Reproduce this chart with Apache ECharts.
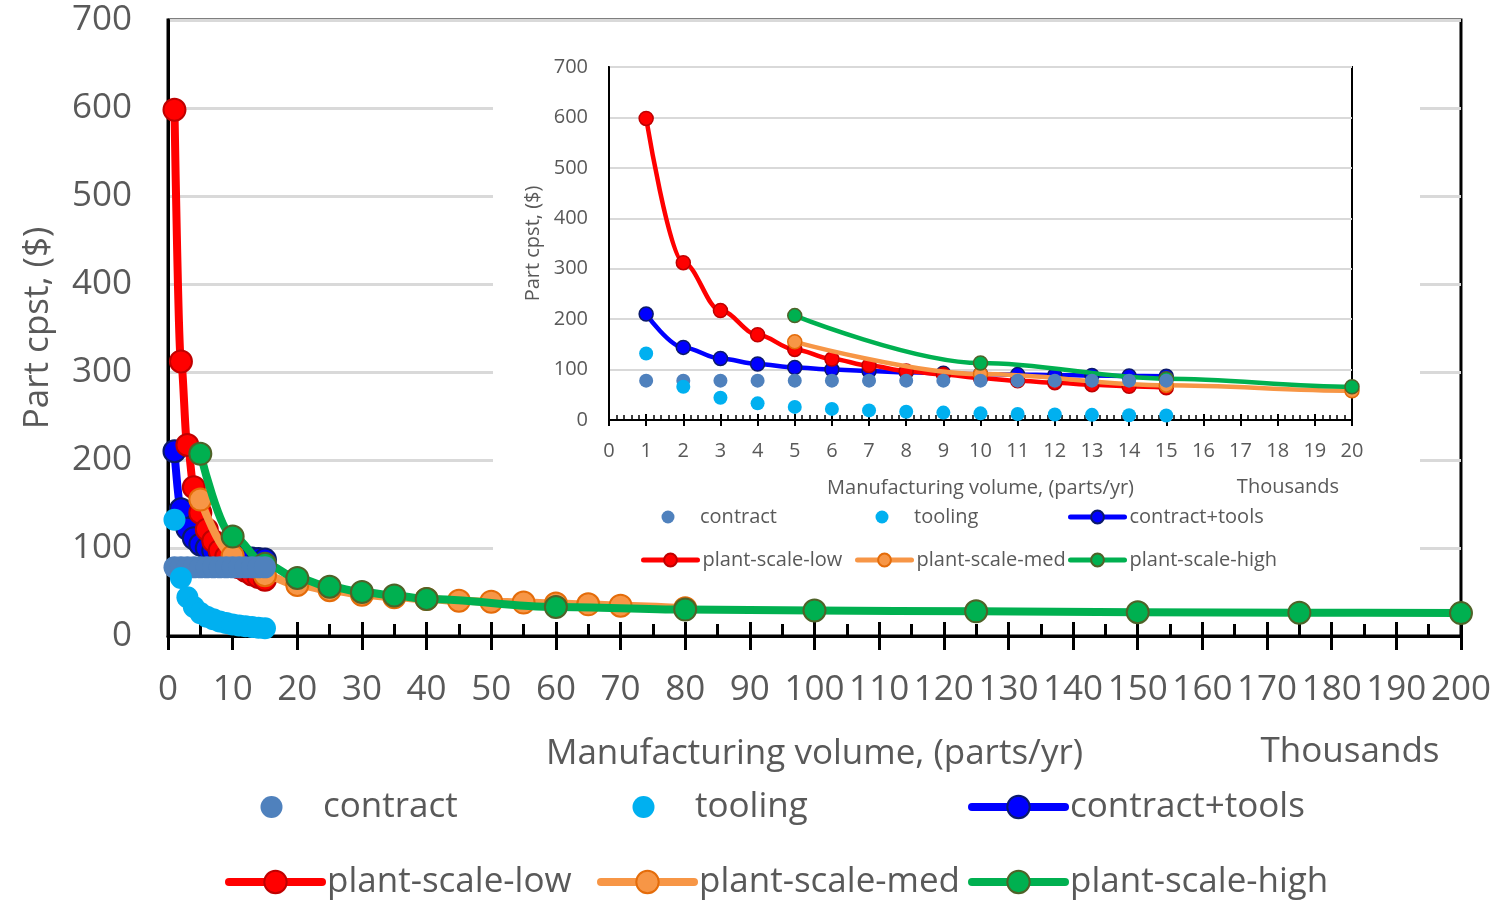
<!DOCTYPE html>
<html>
<head>
<meta charset="utf-8">
<script src="https://cdn.jsdelivr.net/npm/echarts@6/dist/echarts.min.js"></script>
<style>
  html, body { margin: 0; padding: 0; background: #ffffff; }
  #chart { width: 1494px; height: 904px; }
</style>
</head>
<body>
<div id="chart"></div>
<script>
// Manufacturing volume in thousands of parts per year
const volumeContract = [1, 2, 3, 4, 5, 6, 7, 8, 9, 10, 11, 12, 13, 14, 15];
const contractCost = [78, 78, 78, 78, 78, 78, 78, 78, 78, 78, 78, 78, 78, 78, 78];
const toolingCost = [132, 66, 44, 33, 26, 22, 19, 16.5, 14.7, 13.2, 12, 11, 10.2, 9.4, 8.8];
const contractToolsCost = [210, 144, 122, 111, 104, 100, 97, 94.5, 92.7, 91.2, 90, 89, 88.2, 87.4, 86.8];
const plantLowCost = [598, 312, 217, 169, 140, 121, 108, 97, 90, 83, 78, 74, 70, 67, 64];

const volumeMed = [5, 10, 15, 20, 25, 30, 35, 40, 45, 50, 55, 60, 65, 70, 80];
const plantMedCost = [155, 91, 69, 58, 52, 47, 44, 42, 40, 39, 38, 37, 36, 34.5, 31.5];

const volumeHigh = [5, 10, 15, 20, 25, 30, 35, 40, 60, 80, 100, 125, 150, 175, 200];
const plantHighCost = [207, 113, 82, 66, 56, 50, 46, 42, 33, 30, 29, 28, 27, 26.5, 26];

const TEXT = '#595959';
const FONT = 'Open Sans';

const pairs = (xs, ys) => xs.map((x, i) => [x, ys[i]]);

const lineDefs = [
  { name: 'contract+tools', data: pairs(volumeContract, contractToolsCost), line: '#0000ff', fill: '#0000ff', border: '#0b1a6b' },
  { name: 'plant-scale-low', data: pairs(volumeContract, plantLowCost), line: '#ff0000', fill: '#ff0000', border: '#c00000' },
  { name: 'plant-scale-med', data: pairs(volumeMed, plantMedCost), line: '#f79646', fill: '#f79646', border: '#e46c0a' },
  { name: 'plant-scale-high', data: pairs(volumeHigh, plantHighCost), line: '#00b050', fill: '#00b050', border: '#4f6228' }
];
const dotDefs = [
  { name: 'contract', data: pairs(volumeContract, contractCost), fill: '#4f81bd' },
  { name: 'tooling', data: pairs(volumeContract, toolingCost), fill: '#00b0f0' }
];

function buildSeries(xIdx, yIdx, lineW, symSize, zBase) {
  const out = [];
  lineDefs.forEach((d, i) => {
    out.push({
      name: d.name, type: 'line', xAxisIndex: xIdx, yAxisIndex: yIdx,
      data: d.data, smooth: 0.35, smoothMonotone: 'x',
      symbol: 'circle', symbolSize: symSize, showAllSymbol: true,
      lineStyle: { color: d.line, width: lineW, cap: 'round', join: 'round' },
      itemStyle: { color: d.fill, borderColor: d.border, borderWidth: Math.max(1.5, lineW / 4) },
      emphasis: { disabled: true }, z: zBase + i, clip: true
    });
  });
  dotDefs.forEach((d, i) => {
    out.push({
      name: d.name, type: 'scatter', xAxisIndex: xIdx, yAxisIndex: yIdx,
      data: d.data, symbol: 'circle', symbolSize: symSize,
      itemStyle: { color: d.fill, opacity: 1 },
      emphasis: { disabled: true }, z: zBase + 5 + i
    });
  });
  return out;
}

// one legend box per item so the entries line up in three columns;
// dot-only entries sit centred over the same slot a line icon would use
function buildLegends(cols, rows, font, lh, itemW, lineH, dotD, lineW) {
  const out = [];
  const order = [['contract', 'tooling', 'contract+tools'], ['plant-scale-low', 'plant-scale-med', 'plant-scale-high']];
  order.forEach((row, r) => {
    row.forEach((name, c) => {
      const isDot = name === 'contract' || name === 'tooling';
      const left = isDot ? cols[c] + itemW / 2 - dotD / 2 : cols[c];
      const w = isDot ? dotD : itemW;
      const textPad = isDot ? (itemW / 2 - dotD / 2) : 0;
      out.push({
        data: [name], left: left, top: rows[r] - lh / 2, padding: 0,
        itemWidth: w, itemHeight: isDot ? dotD : lineH, itemGap: 0,
        selectedMode: false, z: 6,
        lineStyle: { width: lineW, cap: 'round' },
        textStyle: { color: TEXT, fontFamily: FONT, fontSize: font, lineHeight: lh, padding: [0, 0, 0, textPad] }
      });
    });
  });
  return out;
}

const chart = echarts.init(document.getElementById('chart'), null, { renderer: 'canvas' });

const mainX = {
  gridIndex: 0, type: 'value', min: 0, max: 200, interval: 10, position: 'bottom',
  axisLine: { show: true, onZero: false, lineStyle: { color: '#000', width: 3 } },
  axisTick: { show: true, inside: false, length: 14, lineStyle: { color: '#000', width: 3 } },
  axisLabel: { color: TEXT, fontFamily: FONT, fontSize: 35, margin: 37 },
  splitLine: { show: false },
  name: 'Manufacturing volume, (parts/yr)', nameLocation: 'middle', nameGap: 101,
  nameTextStyle: { color: TEXT, fontFamily: FONT, fontSize: 35 }
};
const mainXInner = {
  gridIndex: 0, type: 'value', min: 0, max: 200, interval: 10, position: 'bottom',
  axisLine: { show: false, onZero: false },
  axisTick: { show: true, inside: true, length: 14, lineStyle: { color: '#000', width: 3 } },
  minorTick: { show: true, splitNumber: 2, length: 12, lineStyle: { color: '#000', width: 3 } },
  axisLabel: { show: false }, splitLine: { show: false }
};
const insetX = {
  gridIndex: 1, type: 'value', min: 0, max: 20, interval: 1, position: 'bottom', z: 3,
  axisLine: { show: true, onZero: false, lineStyle: { color: '#000', width: 2 } },
  axisTick: { show: true, inside: false, length: 6, lineStyle: { color: '#000', width: 2 } },
  axisLabel: { color: TEXT, fontFamily: FONT, fontSize: 20, margin: 21 },
  splitLine: { show: false },
  name: 'Manufacturing volume, (parts/yr)', nameLocation: 'middle', nameGap: 58,
  nameTextStyle: { color: TEXT, fontFamily: FONT, fontSize: 20 }
};
const insetXInner = {
  gridIndex: 1, type: 'value', min: 0, max: 20, interval: 1, position: 'bottom', z: 3,
  axisLine: { show: false, onZero: false },
  axisTick: { show: true, inside: true, length: 6, lineStyle: { color: '#000', width: 2 } },
  minorTick: { show: true, splitNumber: 5, length: 5, lineStyle: { color: '#000', width: 1.5 } },
  axisLabel: { show: false }, splitLine: { show: false }
};

chart.setOption({
  animation: false,
  backgroundColor: '#ffffff',
  textStyle: { fontFamily: FONT },
  grid: [
    { left: 168, right: 32, top: 20, bottom: 268, show: true, borderColor: '#000', borderWidth: 3, backgroundColor: 'transparent' },
    { left: 609, right: 142, top: 67, bottom: 484, show: true, borderColor: '#000', borderWidth: 2, backgroundColor: 'transparent', z: 3 }
  ],
  xAxis: [mainX, mainXInner, insetX, insetXInner],
  yAxis: [
    {
      gridIndex: 0, type: 'value', min: 0, max: 700, interval: 100,
      axisLine: { show: true, onZero: false, lineStyle: { color: '#000', width: 3 } },
      axisTick: { show: false },
      axisLabel: { color: TEXT, fontFamily: FONT, fontSize: 35, margin: 36 },
      splitLine: { show: true, lineStyle: { color: '#d9d9d9', width: 3 } },
      name: 'Part cpst, ($)', nameLocation: 'middle', nameGap: 112, nameRotate: 90,
      nameTextStyle: { color: TEXT, fontFamily: FONT, fontSize: 35 }
    },
    {
      gridIndex: 1, type: 'value', min: 0, max: 700, interval: 100, z: 3,
      axisLine: { show: true, onZero: false, lineStyle: { color: '#000', width: 2 } },
      axisTick: { show: false },
      axisLabel: { color: TEXT, fontFamily: FONT, fontSize: 20, margin: 21 },
      splitLine: { show: true, lineStyle: { color: '#d9d9d9', width: 2 } },
      name: 'Part cpst, ($)', nameLocation: 'middle', nameGap: 66, nameRotate: 90,
      nameTextStyle: { color: TEXT, fontFamily: FONT, fontSize: 20 }
    }
  ],
  graphic: [
    // white panel behind the close-up plot of the first 20 thousand parts
    { type: 'rect', shape: { x: 493, y: 28, width: 927, height: 550 }, style: { fill: '#ffffff' }, z: 1, silent: true },
    { type: 'text', x: 1350, y: 752, z: 6, style: { text: 'Thousands', fill: TEXT, font: '35px "Open Sans"', align: 'center', verticalAlign: 'middle' } },
    { type: 'text', x: 1288, y: 487, z: 6, style: { text: 'Thousands', fill: TEXT, font: '20px "Open Sans"', align: 'center', verticalAlign: 'middle' } }
  ],
  legend: [
    ...buildLegends([225, 597, 968], [807, 882], 35, 40, 93, 28, 22, 8),
    ...buildLegends([641, 855, 1068], [517, 560], 20, 24, 54, 16, 13, 5)
  ],
  series: [
    ...buildSeries(0, 0, 8, 22, 2),
    ...buildSeries(2, 1, 4.5, 14, 10)
  ]
});
</script>
</body>
</html>
